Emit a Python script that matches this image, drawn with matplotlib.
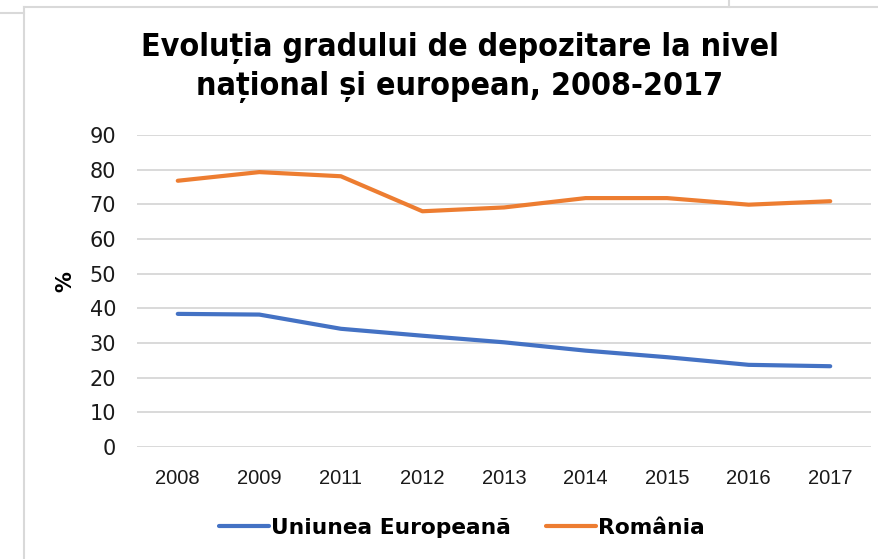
import numpy as np
import matplotlib
matplotlib.use('Agg')
import matplotlib.pyplot as plt
from matplotlib.lines import Line2D


YEARS = ['2008', '2009', '2011', '2012', '2013', '2014', '2015', '2016', '2017']
EU_VALUES = [38.4, 38.2, 34.1, 32.1, 30.2, 27.8, 25.9, 23.7, 23.3]
RO_VALUES = [76.8, 79.3, 78.1, 68.0, 69.1, 71.8, 71.8, 69.9, 70.9]
SERIES_NAMES = ['Uniunea Europeană', 'România']
Y_TICKS = [0, 10, 20, 30, 40, 50, 60, 70, 80, 90]

TITLE_1 = 'Evoluția gradului de depozitare la nivel'
TITLE_2 = 'național și european, 2008-2017'

BLUE = '#4472C4'
ORANGE = '#ED7D31'
GRID = '#D9D9D9'
W, H = 879, 559


def main():
    fig = plt.figure(figsize=(W / 100, H / 100), dpi=100)
    ax = fig.add_axes([137 / W, 1 - 447 / H, (871 - 137) / W, (447 - 135) / H])

    x = np.arange(len(YEARS))
    ax.plot(x, EU_VALUES, color=BLUE, lw=3.0, solid_capstyle='round',
            solid_joinstyle='round', label=SERIES_NAMES[0])
    ax.plot(x, RO_VALUES, color=ORANGE, lw=3.0, solid_capstyle='round',
            solid_joinstyle='round', label=SERIES_NAMES[1])

    ax.set_xlim(-0.5, len(YEARS) - 0.5)
    ax.set_ylim(0, 90)
    ax.set_yticks(Y_TICKS)
    ax.set_xticks(x)
    ax.set_xticklabels(YEARS, fontsize=14.5, family=['Liberation Sans', 'DejaVu Sans'],
                       color='#1a1a1a')
    for lab in ax.get_yticklabels():
        lab.set_fontsize(15)
        lab.set_color('#1a1a1a')
    ax.tick_params(axis='both', length=0)
    ax.tick_params(axis='y', pad=15)
    ax.tick_params(axis='x', pad=16)
    ax.grid(axis='y', color=GRID, lw=1.4)
    ax.set_axisbelow(True)
    for spine in ax.spines.values():
        spine.set_visible(False)

    # title, y label, legend
    fig.text(460 / W, 1 - 48 / H, TITLE_1, ha='center', va='center',
             fontsize=23, fontweight='bold', fontstretch='condensed')
    fig.text(460 / W, 1 - 87 / H, TITLE_2, ha='center', va='center',
             fontsize=23, fontweight='bold', fontstretch='condensed')
    fig.text(65 / W, 1 - 282 / H, '%', rotation=90, ha='center', va='center',
             fontsize=15, fontweight='bold')

    fig.legend(loc='center', bbox_to_anchor=(462 / W, 1 - 528 / H), ncol=2,
               frameon=False, handlelength=2.3, handletextpad=0.1, columnspacing=1.6,
               prop={'size': 15.7, 'weight': 'bold'})

    # worksheet / chart area border lines
    fig.add_artist(Line2D([24 / W, 24 / W], [0, 1 - 7 / H], color=GRID, lw=1.5))
    fig.add_artist(Line2D([24 / W, 1], [1 - 7 / H, 1 - 7 / H], color=GRID, lw=1.5))
    fig.add_artist(Line2D([0, 24 / W], [1 - 13 / H, 1 - 13 / H], color=GRID, lw=1.5))
    fig.add_artist(Line2D([729 / W, 729 / W], [1 - 7 / H, 1], color=GRID, lw=1.5))

    fig.savefig('out.png', dpi=100)


if __name__ == '__main__':
    main()
